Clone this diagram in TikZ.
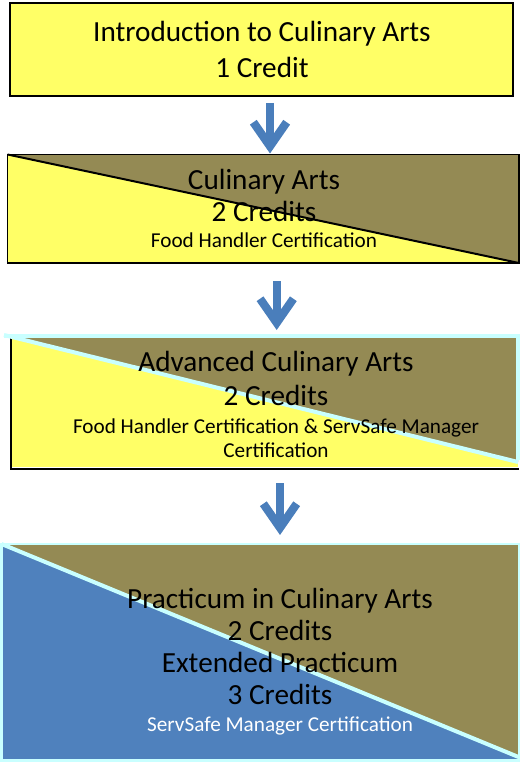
\documentclass[tikz,border=0pt]{standalone}
\usepackage{fontspec}
\setmainfont{Carlito}
\usetikzlibrary{arrows.meta}

\definecolor{boxyellow}{HTML}{FFFF66}
\definecolor{boxolive}{HTML}{948A54}
\definecolor{boxblue}{HTML}{4F81BD}
\definecolor{edgecyan}{HTML}{C9FFFF}
\definecolor{arrowblue}{HTML}{4A7EBB}

\tikzset{
  coursebox/.style={rectangle, inner sep=0pt, outer sep=0pt},
  halves/.style n args={3}{coursebox, fill=#1, path picture={
      \fill[#2] (path picture bounding box.north west) -- (path picture bounding box.north east)
        -- ([yshift=#3]path picture bounding box.south east) -- cycle;}},
  coursetext/.style={font=\fontsize{21.9}{24}\selectfont, align=center, anchor=base, inner sep=0pt},
  flowarrow/.style={draw=arrowblue, line width=6.2pt, -{Straight Barb[length=18pt, width=25pt]}}
}

\begin{document}
\begin{tikzpicture}[x=0.75pt, y=-0.75pt]
    \useasboundingbox (0,0) rectangle (520,763);
    % Introduction
    \node[coursebox, fill=boxyellow, draw=black, line width=1.2pt, minimum width=377.25pt, minimum height=69.75pt] (box1) at (261.5,49.5) {};
    \node[coursetext] (txt1) at (262,78) {Introduction to Culinary Arts\\[3.2pt]1 Credit};
    % Culinary Arts
    \node[halves={boxyellow}{boxolive}{0pt}, draw=black, line width=1.2pt, minimum width=383.6pt, minimum height=81.4pt] (box2) at (263.25,208.75) {};
    \draw[black, line width=1.5pt] (box2.north west) -- (box2.south east);
    \node[coursetext] (txt2) at (264,247.3) {Culinary Arts\\2 Credits\\[-4.8pt]{\fontsize{15.9}{19}\selectfont Food Handler Certification}};
    % Advanced Culinary Arts
    \node[halves={boxyellow}{boxolive}{3.75pt}, minimum width=379.5pt, minimum height=97.5pt] (box3) at (265,402) {};
    \draw[black, line width=1.5pt] ([xshift=-0.75pt]box3.north west) -- ([shift={(-0.75pt,-1.2pt)}]box3.south west) -- ([shift={(1pt,-1.2pt)}]box3.south east);
    \draw[edgecyan, line width=3pt] ([shift={(-6pt,1pt)}]box3.north west) -- ([yshift=1pt]box3.north east) -- ([yshift=5pt]box3.south east);
    \draw[edgecyan, line width=3pt] ([shift={(-6pt,1.5pt)}]box3.north west) -- ([yshift=3.75pt]box3.south east);
    \node[coursetext] (txt3) at (276,457.7) {Advanced Culinary Arts\\[1.7pt]2 Credits\\[-3.5pt]{\fontsize{15.9}{19}\selectfont Food Handler Certification \& ServSafe Manager}\\[-5.7pt]{\fontsize{15.9}{19}\selectfont Certification}};
    % Practicum
    \node[halves={boxblue}{boxolive}{2.5pt}, draw=edgecyan, line width=2pt, minimum width=388.1pt, minimum height=162.4pt] (box4) at (260.25,652.25) {};
    \draw[edgecyan, line width=3pt] (box4.north west) -- ([yshift=2.5pt]box4.south east);
    \node[coursetext] (txt4) at (280,731) {Practicum in Culinary Arts\\2 Credits\\Extended Practicum\\3 Credits\\[-4pt]{\fontsize{15.9}{19}\selectfont\color{white} ServSafe Manager Certification}};
    % Arrows
    \coordinate (col1) at (270,0);
    \coordinate (col2) at (276.7,0);
    \coordinate (col3) at (280,0);
    \draw[flowarrow, shorten <=5.25pt, shorten >=0.75pt] (box1.south -| col1) -- (box2.north -| col1);
    \draw[flowarrow, shorten <=13.5pt, shorten >=5.25pt] (box2.south -| col2) -- (box3.north -| col2);
    \draw[flowarrow, shorten <=12pt, shorten >=6.75pt] (box3.south -| col3) -- (box4.north -| col3);
\end{tikzpicture}
\end{document}
